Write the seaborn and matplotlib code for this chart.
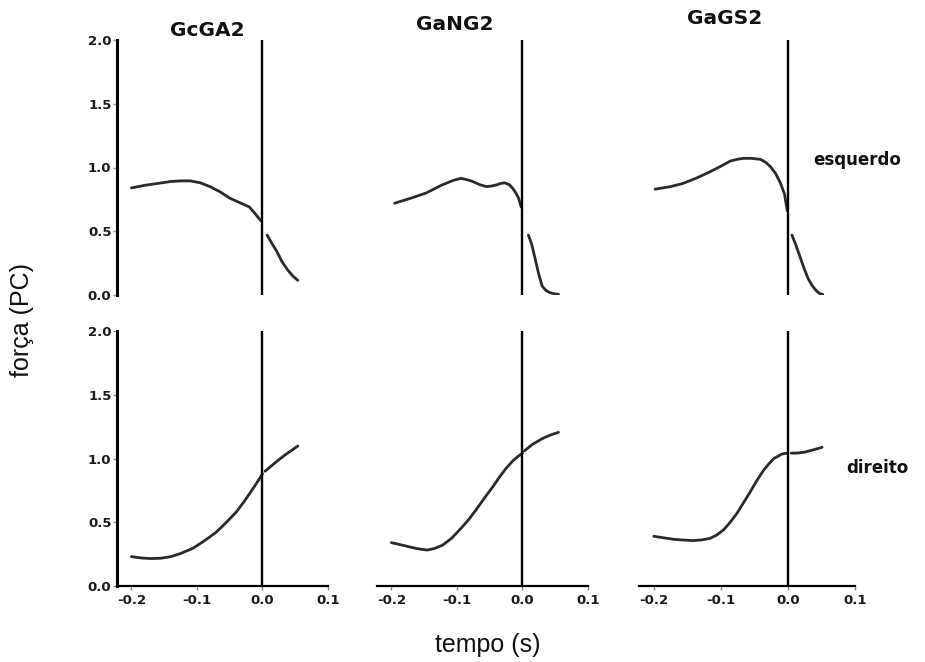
import numpy as np
import pandas as pd
import matplotlib
matplotlib.use("Agg")
import matplotlib.pyplot as plt
import seaborn as sns

# ---------------- data ----------------
groups = ["GcGA2", "GaNG2", "GaGS2"]
rows = ["esquerdo", "direito"]
x_ticks = [-0.2, -0.1, 0.0, 0.1]
x_tick_labels = ["-0.2", "-0.1", "0.0", "0.1"]
y_ticks = [0.0, 0.5, 1.0, 1.5, 2.0]
y_tick_labels = ["0.0", "0.5", "1.0", "1.5", "2.0"]

# esquerdo (top row): before and after t = 0
esq_GcGA2_pre_t = [-0.20, -0.18, -0.16, -0.14, -0.125, -0.11, -0.095, -0.08, -0.065, -0.05, -0.035, -0.02, -0.01, -0.002]
esq_GcGA2_pre_f = [0.84, 0.86, 0.875, 0.89, 0.895, 0.895, 0.88, 0.85, 0.81, 0.76, 0.725, 0.69, 0.63, 0.58]
esq_GcGA2_post_t = [0.007, 0.015, 0.022, 0.03, 0.038, 0.046, 0.054]
esq_GcGA2_post_f = [0.47, 0.40, 0.34, 0.26, 0.20, 0.15, 0.115]

esq_GaNG2_pre_t = [-0.195, -0.17, -0.147, -0.122, -0.105, -0.094, -0.085, -0.076, -0.065, -0.055, -0.047, -0.04,
                   -0.033, -0.027, -0.02, -0.015, -0.01, -0.006, -0.002]
esq_GaNG2_pre_f = [0.72, 0.76, 0.80, 0.865, 0.90, 0.915, 0.905, 0.89, 0.865, 0.85, 0.855, 0.863,
                   0.875, 0.88, 0.865, 0.837, 0.80, 0.76, 0.69]
esq_GaNG2_post_t = [0.009, 0.014, 0.02, 0.025, 0.03, 0.036, 0.042, 0.05, 0.055]
esq_GaNG2_post_f = [0.47, 0.40, 0.27, 0.16, 0.07, 0.035, 0.018, 0.008, 0.005]

esq_GaGS2_pre_t = [-0.198, -0.175, -0.156, -0.135, -0.116, -0.1, -0.086, -0.075, -0.066, -0.055, -0.041, -0.033,
                   -0.026, -0.018, -0.011, -0.005, -0.001]
esq_GaGS2_pre_f = [0.83, 0.85, 0.876, 0.92, 0.967, 1.01, 1.05, 1.065, 1.072, 1.072, 1.064, 1.04,
                   1.006, 0.95, 0.876, 0.79, 0.66]
esq_GaGS2_post_t = [0.006, 0.012, 0.018, 0.024, 0.03, 0.036, 0.042, 0.047, 0.052]
esq_GaGS2_post_f = [0.47, 0.39, 0.30, 0.21, 0.13, 0.075, 0.035, 0.012, 0.005]

# direito (bottom row)
dir_GcGA2_pre_t = [-0.20, -0.185, -0.17, -0.155, -0.14, -0.125, -0.106, -0.09, -0.071, -0.055, -0.04, -0.027, -0.015, -0.006, 0.0]
dir_GcGA2_pre_f = [0.23, 0.22, 0.215, 0.218, 0.23, 0.255, 0.296, 0.35, 0.42, 0.50, 0.58, 0.67, 0.76, 0.83, 0.88]
dir_GcGA2_post_t = [0.004, 0.02, 0.035, 0.054]
dir_GcGA2_post_f = [0.90, 0.97, 1.03, 1.098]

dir_GaNG2_pre_t = [-0.2, -0.183, -0.167, -0.155, -0.145, -0.134, -0.122, -0.108, -0.096, -0.083, -0.071, -0.058,
                   -0.045, -0.035, -0.025, -0.015, -0.006, 0.0]
dir_GaNG2_pre_f = [0.34, 0.32, 0.30, 0.288, 0.282, 0.295, 0.32, 0.375, 0.44, 0.515, 0.596, 0.69,
                   0.78, 0.855, 0.923, 0.98, 1.02, 1.04]
dir_GaNG2_post_t = [0.003, 0.015, 0.031, 0.043, 0.055]
dir_GaNG2_post_f = [1.06, 1.11, 1.158, 1.185, 1.205]

dir_GaGS2_pre_t = [-0.2, -0.185, -0.17, -0.155, -0.141, -0.128, -0.116, -0.106, -0.096, -0.086, -0.076, -0.066,
                   -0.056, -0.046, -0.036, -0.028, -0.021, -0.014, -0.009, -0.004, 0.0]
dir_GaGS2_pre_f = [0.39, 0.378, 0.366, 0.36, 0.356, 0.362, 0.374, 0.40, 0.44, 0.50, 0.57, 0.655,
                   0.74, 0.83, 0.91, 0.96, 1.0, 1.02, 1.035, 1.04, 1.04]
dir_GaGS2_post_t = [0.005, 0.015, 0.025, 0.038, 0.051]
dir_GaGS2_post_f = [1.042, 1.043, 1.05, 1.068, 1.088]

series = {
    ("esquerdo", "GcGA2"): [(esq_GcGA2_pre_t, esq_GcGA2_pre_f), (esq_GcGA2_post_t, esq_GcGA2_post_f)],
    ("esquerdo", "GaNG2"): [(esq_GaNG2_pre_t, esq_GaNG2_pre_f), (esq_GaNG2_post_t, esq_GaNG2_post_f)],
    ("esquerdo", "GaGS2"): [(esq_GaGS2_pre_t, esq_GaGS2_pre_f), (esq_GaGS2_post_t, esq_GaGS2_post_f)],
    ("direito", "GcGA2"): [(dir_GcGA2_pre_t, dir_GcGA2_pre_f), (dir_GcGA2_post_t, dir_GcGA2_post_f)],
    ("direito", "GaNG2"): [(dir_GaNG2_pre_t, dir_GaNG2_pre_f), (dir_GaNG2_post_t, dir_GaNG2_post_f)],
    ("direito", "GaGS2"): [(dir_GaGS2_pre_t, dir_GaGS2_pre_f), (dir_GaGS2_post_t, dir_GaGS2_post_f)],
}

# ---------------- styling ----------------
sns.set_theme(style="white")
plt.rcParams["font.family"] = ["DejaVu Sans"]

W, H = 925, 662
fig = plt.figure(figsize=(W / 100, H / 100), dpi=100)
fig.patch.set_facecolor("white")

def frac_rect(left, top, width, height):
    return [left / W, 1 - (top + height) / H, width / W, height / H]

col_left = [117, 377, 639]
col_width = [211, 211, 216]
row_top = [40, 331]
row_height = 255

line_color = "#2a2a2a"

for r, row in enumerate(rows):
    for c, grp in enumerate(groups):
        ax = fig.add_axes(frac_rect(col_left[c], row_top[r], col_width[c], row_height))
        ax.set_facecolor("white")
        for seg_i, (t, f) in enumerate(series[(row, grp)]):
            df = pd.DataFrame({"t": t, "f": f})
            sns.lineplot(data=df, x="t", y="f", ax=ax, color=line_color, lw=2.0,
                         sort=False, estimator=None, solid_capstyle="round")
        ax.axvline(0.0, ymin=0, ymax=1, color="black", lw=1.7, zorder=5)
        ax.set_xlim(-0.222, 0.1)
        ax.set_ylim(0.0, 2.0)
        ax.set_xlabel("")
        ax.set_ylabel("")
        for s in ["top", "right"]:
            ax.spines[s].set_visible(False)
        if c == 0:
            ax.spines["left"].set_visible(True)
            ax.spines["left"].set_color("black")
            ax.spines["left"].set_linewidth(2.2)
            ax.set_yticks(y_ticks)
            ax.set_yticklabels(y_tick_labels, fontsize=9.5, fontweight="bold", color="#1a1a1a")
            ax.tick_params(axis="y", direction="out", length=3, width=1, color="#888888", pad=1, left=True)
        else:
            ax.spines["left"].set_visible(False)
            ax.set_yticks([])
        if r == 1:
            ax.spines["bottom"].set_visible(True)
            ax.spines["bottom"].set_color("black")
            ax.spines["bottom"].set_linewidth(1.6)
            ax.set_xticks(x_ticks)
            ax.set_xticklabels(x_tick_labels, fontsize=9.5, fontweight="bold", color="#1a1a1a")
            ax.tick_params(axis="x", direction="out", length=3, width=1, color="#888888", pad=3, bottom=True)
        else:
            ax.spines["bottom"].set_visible(False)
            ax.set_xticks([])
        ax.grid(False)

# column titles
title_pos = [(207, 30), (455, 24), (725, 18)]
for grp, (x, y) in zip(groups, title_pos):
    fig.text(x / W, 1 - y / H, grp, ha="center", va="center", fontsize=14.5, fontweight="bold", color="#111111")

# row labels
fig.text(857 / W, 1 - 160 / H, "esquerdo", ha="center", va="center", fontsize=12, fontweight="bold", color="#111111")
fig.text(877 / W, 1 - 468 / H, "direito", ha="center", va="center", fontsize=12, fontweight="bold", color="#111111")

# axis labels
fig.text(22 / W, 1 - 320 / H, "força (PC)", ha="center", va="center", rotation=90,
         fontsize=18, family=["Liberation Sans", "DejaVu Sans"], color="#111111")
fig.text(488 / W, 1 - 645 / H, "tempo (s)", ha="center", va="center",
         fontsize=18, family=["Liberation Sans", "DejaVu Sans"], color="#111111")

fig.savefig("out.png", dpi=100, facecolor="white")
